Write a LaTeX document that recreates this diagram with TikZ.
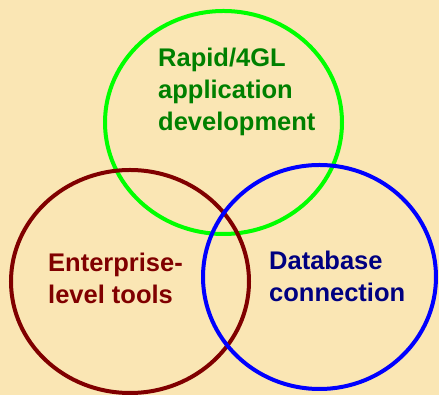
\documentclass[tikz,border=0pt]{standalone}
\usepackage{fontspec}
\setmainfont{Liberation Sans}
\definecolor{bg}{RGB}{250,230,180}
\definecolor{ringgreen}{RGB}{0,255,0}
\definecolor{txtgreen}{RGB}{0,128,0}
\definecolor{ringred}{RGB}{128,0,0}
\definecolor{ringblue}{RGB}{0,0,255}
\definecolor{txtblue}{RGB}{0,0,128}
\begin{document}
\begin{tikzpicture}[x=1pt,y=1pt,
  ring/.style={line width=4pt},
  label/.style={font=\bfseries\fontsize{25.5}{32}\selectfont, align=left, inner sep=0pt, anchor=base west}]
\fill[bg] (0,0) rectangle (439,395);
\useasboundingbox (0,0) rectangle (439,395);
\draw[ring, ringgreen] (223.5,272.5) ellipse [x radius=118.5, y radius=111.5];
\draw[ring, ringred] (130,113.5) ellipse [x radius=119, y radius=111.5];
\draw[ring, ringblue] (319.5,118) ellipse [x radius=116.5, y radius=112];
\node[label, text=txtgreen] (rapid) at (158,264) {Rapid/4GL\\application\\development};
\node[label, text=ringred] (ent) at (48,91) {Enterprise-\\level tools};
\node[label, text=txtblue] (db) at (269,93) {Database\\connection};
\end{tikzpicture}
\end{document}
